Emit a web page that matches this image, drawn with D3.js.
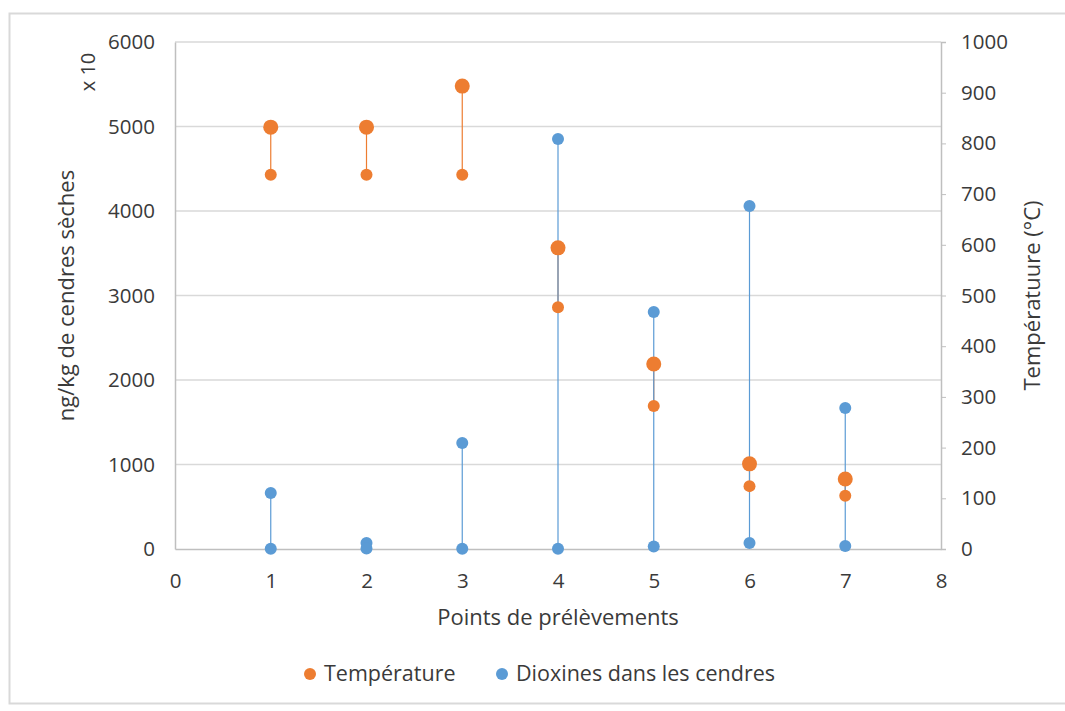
<!DOCTYPE html>
<html>
<head>
<meta charset="utf-8">
<script src="https://cdn.jsdelivr.net/npm/d3@7"></script>
<style>
body { margin: 0; background: #fff; }
text { font-family: "Open Sans", "Noto Sans", sans-serif; fill: #3a3a3a; }
</style>
</head>
<body>
<svg id="graph1"></svg>
<script>
// points de prelevement
var points = [1, 2, 3, 4, 5, 6, 7]
// temperature (right axis, °C): high and low values
var tempHigh = [832, 832, 913, 594, 365, 168, 138]
var tempLow = [738, 738, 738, 477, 282, 124, 105]
// dioxines (left axis, ng/kg x10): high and low values
var dioxHigh = [663, 71, 1254, 4852, 2805, 4059, 1669]
var dioxLow = [4, 5, 4, 4, 30, 71, 35]

var xTicks = [0, 1, 2, 3, 4, 5, 6, 7, 8]
var yLeftTicks = [0, 1000, 2000, 3000, 4000, 5000, 6000]
var yRightTicks = [0, 100, 200, 300, 400, 500, 600, 700, 800, 900, 1000]

var screen = {width: 1065, height: 711}
var margins = {top: 42, bottom: 162, left: 175, right: 124}
var width = screen.width - margins.left - margins.right
var height = screen.height - margins.top - margins.bottom

var orange = "#ed7d31"
var blue = "#5b9bd5"

var svg = d3.select("#graph1")
    .attr("width", screen.width)
    .attr("height", screen.height)

// outer border
svg.append("rect")
    .attr("x", 9.5).attr("y", 13.5)
    .attr("width", 1070).attr("height", 690)
    .attr("fill", "none")
    .attr("stroke", "#d9d9d9")
    .attr("stroke-width", 2)

var g = svg.append("g")
    .attr("transform", "translate(" + margins.left + "," + margins.top + ")")

var xScale = d3.scaleLinear().domain([0, 8]).range([0, width])
var yLeft = d3.scaleLinear().domain([0, 6000]).range([height, 0])
var yRight = d3.scaleLinear().domain([0, 1000]).range([height, 0])

// gridlines
g.selectAll(".grid")
    .data(yLeftTicks.slice(1))
    .enter()
    .append("line")
    .attr("x1", 0).attr("x2", width)
    .attr("y1", function(d) { return yLeft(d) })
    .attr("y2", function(d) { return yLeft(d) })
    .attr("stroke", "#d9d9d9")
    .attr("stroke-width", 1.5)

// left axis
var leftAxis = g.append("g")
    .call(d3.axisLeft(yLeft).tickValues(yLeftTicks).tickFormat(d3.format("d")).tickSize(0).tickPadding(20))
leftAxis.select(".domain").attr("stroke", "#bfbfbf").attr("stroke-width", 1.5)

// right axis
var rightAxis = g.append("g")
    .attr("transform", "translate(" + width + ",0)")
    .call(d3.axisRight(yRight).tickValues(yRightTicks).tickFormat(d3.format("d")).tickSize(5).tickSizeOuter(5).tickPadding(15))
rightAxis.select(".domain").attr("stroke", "#bfbfbf").attr("stroke-width", 1.5)
rightAxis.selectAll(".tick line").attr("stroke", "#bfbfbf")

// bottom axis
var bottomAxis = g.append("g")
    .attr("transform", "translate(0," + height + ")")
    .call(d3.axisBottom(xScale).tickValues(xTicks).tickFormat(d3.format("d")).tickSize(0).tickPadding(24))
bottomAxis.select(".domain").attr("stroke", "#bfbfbf").attr("stroke-width", 1.5)

svg.selectAll(".tick text")
    .style("font-size", "20.5px")
    .attr("fill", "#3a3a3a")

// temperature high-low lines
g.selectAll(".tline")
    .data(points)
    .enter()
    .append("line")
    .attr("x1", function(d) { return xScale(d) })
    .attr("x2", function(d) { return xScale(d) })
    .attr("y1", function(d, i) { return yRight(tempHigh[i]) })
    .attr("y2", function(d, i) { return yRight(tempLow[i]) })
    .attr("stroke", orange)
    .attr("stroke-width", 1.2)

// dioxines lines
g.selectAll(".dline")
    .data(points)
    .enter()
    .append("line")
    .attr("x1", function(d) { return xScale(d) })
    .attr("x2", function(d) { return xScale(d) })
    .attr("y1", function(d, i) { return yLeft(dioxHigh[i]) })
    .attr("y2", function(d, i) { return yLeft(dioxLow[i]) })
    .attr("stroke", blue)
    .attr("stroke-width", 1.2)

// temperature markers
g.selectAll(".thigh")
    .data(points)
    .enter()
    .append("circle")
    .attr("cx", function(d) { return xScale(d) })
    .attr("cy", function(d, i) { return yRight(tempHigh[i]) })
    .attr("r", 7.5)
    .attr("fill", orange)

g.selectAll(".tlow")
    .data(points)
    .enter()
    .append("circle")
    .attr("cx", function(d) { return xScale(d) })
    .attr("cy", function(d, i) { return yRight(tempLow[i]) })
    .attr("r", 6)
    .attr("fill", orange)

// dioxines markers
g.selectAll(".dhigh")
    .data(points)
    .enter()
    .append("circle")
    .attr("cx", function(d) { return xScale(d) })
    .attr("cy", function(d, i) { return yLeft(dioxHigh[i]) })
    .attr("r", 6)
    .attr("fill", blue)

g.selectAll(".dlow")
    .data(points)
    .enter()
    .append("circle")
    .attr("cx", function(d) { return xScale(d) })
    .attr("cy", function(d, i) { return yLeft(dioxLow[i]) })
    .attr("r", 6)
    .attr("fill", blue)

// axis titles
svg.append("text")
    .attr("transform", "translate(74," + (margins.top + height / 2) + ") rotate(-90)")
    .attr("text-anchor", "middle")
    .style("font-size", "22px")
    .text("ng/kg de cendres sèches")

svg.append("text")
    .attr("transform", "translate(95,72) rotate(-90)")
    .attr("text-anchor", "middle")
    .style("font-size", "20px")
    .text("x 10")

svg.append("text")
    .attr("transform", "translate(1040," + (margins.top + height / 2) + ") rotate(-90)")
    .attr("text-anchor", "middle")
    .style("font-size", "22px")
    .text("Températuure (°C)")

svg.append("text")
    .attr("x", margins.left + width / 2)
    .attr("y", 625)
    .attr("text-anchor", "middle")
    .style("font-size", "22px")
    .text("Points de prélèvements")

// legend
var legend = [{name: "Température", color: orange, x: 310}, {name: "Dioxines dans les cendres", color: blue, x: 502}]
var lg = svg.selectAll(".legend")
    .data(legend)
    .enter()
    .append("g")
    .attr("transform", function(d) { return "translate(" + d.x + ",674)" })
lg.append("circle").attr("r", 6).attr("fill", function(d) { return d.color })
lg.append("text")
    .attr("x", 14).attr("y", 7)
    .style("font-size", "21.5px")
    .text(function(d) { return d.name })
</script>
</body>
</html>
